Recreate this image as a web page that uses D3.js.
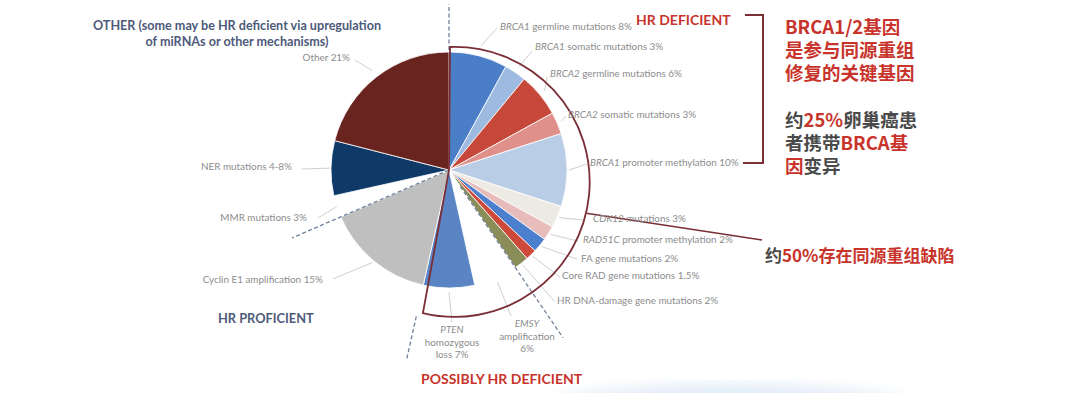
<!DOCTYPE html>
<html><head><meta charset="utf-8">
<script src="https://cdn.jsdelivr.net/npm/d3@7"></script>
<style>
html,body{margin:0;padding:0;background:#fff;}
svg{display:block;}
</style></head>
<body>
<svg id="chart" width="1080" height="393"></svg>
<script>
// ---------------- DATA ----------------
const categories = [
  "BRCA1 germline mutations", "BRCA1 somatic mutations", "BRCA2 germline mutations",
  "BRCA2 somatic mutations", "BRCA1 promoter methylation", "CDK12 mutations",
  "RAD51C promoter methylation", "FA gene mutations", "Core RAD gene mutations",
  "HR DNA-damage gene mutations", "EMSY amplification", "PTEN homozygous loss",
  "Cyclin E1 amplification", "MMR mutations", "NER mutations", "Other"
];
const values = [8, 3, 6, 3, 10, 3, 2, 2, 1.5, 2, 6, 7, 15, 3, 7.5, 21];
const valueLabels = ["8%","3%","6%","3%","10%","3%","2%","2%","1.5%","2%","6%","7%","15%","3%","4-8%","21%"];
const groups = ["HR DEFICIENT","POSSIBLY HR DEFICIENT","HR PROFICIENT","OTHER"];
const italicGenes = ["BRCA1","BRCA2","CDK12","RAD51C","EMSY","PTEN"];

// ---------------- STYLE / LAYOUT ----------------
const sliceColors = ["#4a7ec6","#9dbbe1","#c6483b","#e0908a","#b9cde7","#eceae2",
  "#e8bcba","#4c80cf","#cd4a3a","#8a8d57","#ffffff","#5b84c4","#bfbfbf","#ffffff","#0f3a68","#6a2420"];
const cx = 449, cy = 170, R = 118;
const oc = {x:455, y:182, r:135};          // outline arc centre/radius
const dark = "#7a2e35", red = "#c8342b", slate = "#4d5a7a", grayTxt = "#8c8c8c";
const labelFont = "Lato, 'Open Sans', sans-serif";
// label layout: [x, y, anchor, leaderEndX, leaderEndY, leaderStartR]
const labelLayout = [
  [500, 30, "start", 497, 28, 128],
  [535, 50, "start", 532, 51, 125],
  [550, 77, "start", 547, 77, 124],
  [568, 118,"start", 566, 116, 122],
  [590, 166,"start", 587, 164, 120],
  [593, 222,"start", 583, 220, 120],
  [583, 243,"start", 578, 241, 120],
  [581, 262,"start", 577, 259, 120],
  [562, 279,"start", 560, 277, 120],
  [557, 304,"start", 555, 302, 120],
  [527, 327,"middle",511, 316, 122],
  [452, 333,"middle",452, 322, 122],
  [323, 283,"end",   333, 279, 120],
  [307, 221,"end",   318, 218, 118],
  [292, 170,"end",   302, 169, 119],
  [350, 61, "end",   355, 60, 126]
];

const svg = d3.select("#chart");

// soft background blob at bottom
const defs = svg.append("defs");
defs.append("filter").attr("id","blur").append("feGaussianBlur").attr("stdDeviation",8);
svg.append("ellipse").attr("cx",730).attr("cy",412).attr("rx",190).attr("ry",26)
  .attr("fill","#dbe8f6").attr("filter","url(#blur)");

const g = svg.append("g").attr("transform",`translate(${cx},${cy})`);
const pie = d3.pie().sort(null).value(d=>d).startAngle(0).endAngle(2*Math.PI);
const arcs = pie(values);
const arc = d3.arc().innerRadius(0).outerRadius(R);

g.selectAll("path.slice").data(arcs).join("path")
  .attr("class","slice")
  .attr("d",arc)
  .attr("fill",(d,i)=>sliceColors[i])
  .attr("stroke","#fff").attr("stroke-width",0.8);

const polar = (a,r)=>[r*Math.sin(a), -r*Math.cos(a)];

// dashed boundary lines
const dashCol = "#6f819b";
const dashed = [
  [arcs[0].startAngle, R+2, 166],
  [arcs[12].endAngle, 0, 171],
  [arcs[9].endAngle, 20, 203],
  [arcs[11].endAngle, 150, 193]
];
dashed.forEach(([a,r0,r1])=>{
  const p0=polar(a,r0), p1=polar(a,r1);
  g.append("line").attr("x1",p0[0]).attr("y1",p0[1]).attr("x2",p1[0]).attr("y2",p1[1])
    .attr("stroke",dashCol).attr("stroke-width",1.3).attr("stroke-dasharray","4,2.5");
});

// leader lines
arcs.forEach((d,i)=>{
  const L = labelLayout[i];
  const mid = (d.startAngle+d.endAngle)/2;
  const p0 = polar(mid, L[5]);
  svg.append("line")
    .attr("x1",cx+p0[0]).attr("y1",cy+p0[1]).attr("x2",L[3]).attr("y2",L[4])
    .attr("stroke","#cfcfcf").attr("stroke-width",1);
});

// outline sector (HR deficient + possibly HR deficient)
const a0 = arcs[0].startAngle, a1 = arcs[11].endAngle + 0.02;
const ptO = a=>[oc.x + oc.r*Math.sin(a), oc.y - oc.r*Math.cos(a)];
const oTop = ptO(a0), oEnd = ptO(a1);
svg.append("path")
  .attr("d",`M${cx},${cy} L${cx+1},${oTop[1]} A${oc.r},${oc.r} 0 1 1 ${oEnd[0]},${oEnd[1]} Z`)
  .attr("fill","none").attr("stroke",dark).attr("stroke-width",1.8);

// connector to "约50%"
const cp = ptO(arcs[4].endAngle - 0.08);
svg.append("line").attr("x1",cp[0]).attr("y1",cp[1]).attr("x2",762).attr("y2",240)
  .attr("stroke",dark).attr("stroke-width",1.6);

// bracket
svg.append("path").attr("d","M745,15 H763 V163 H743")
  .attr("fill","none").attr("stroke",dark).attr("stroke-width",2);

// labels
function addLabel(sel, text){
  const words = text.split(" ");
  if (italicGenes.includes(words[0])) {
    sel.append("tspan").attr("font-style","italic").text(words[0]);
    sel.append("tspan").text(" "+words.slice(1).join(" "));
  } else sel.append("tspan").text(text);
}
arcs.forEach((d,i)=>{
  const L = labelLayout[i];
  const t = svg.append("text").attr("x",L[0]).attr("y",L[1]).attr("text-anchor",L[2])
    .attr("font-family",labelFont).attr("font-size",9.9).attr("fill",grayTxt);
  const full = categories[i]+" "+valueLabels[i];
  if (i===10 || i===11) {
    const w = categories[i].split(" ");
    const parts = i===10 ? [w[0], w[1], valueLabels[i]] : [w[0], w[1], w[2]+" "+valueLabels[i]];
    parts.forEach((p,k)=>{
      t.append("tspan").attr("x",L[0]).attr("dy",k===0?0:12.5)
        .attr("font-style",k===0?"italic":"normal").text(p);
    });
  } else addLabel(t, full);
});

// group headers
const hdr = (x,y,txt,col,size,anchor)=>svg.append("text").attr("x",x).attr("y",y)
  .attr("text-anchor",anchor||"start").attr("font-family",labelFont).attr("font-weight",700)
  .attr("font-size",size).attr("fill",col).text(txt);
hdr(237,30,groups[3]+" (some may be HR deficient via upregulation",slate,12.6,"middle");
hdr(237,46,"of miRNAs or other mechanisms)",slate,12.6,"middle");
hdr(218,323,groups[2],slate,12.8);
hdr(636,25,groups[0],red,14);
hdr(421,384,groups[1],red,14);

// Chinese annotations (each coloured run is its own text, placed after the previous one)
const cjk = "'Noto Sans CJK SC', sans-serif";
const cjkGray = "#4a4a4a";
function rich(x,y,parts,size){
  let xx = x;
  parts.forEach(([s,c])=>{
    const t = svg.append("text").attr("x",xx).attr("y",y).attr("font-family",cjk)
      .attr("font-size",size).attr("font-weight",700)
      .attr("fill",c==="r"?red:cjkGray).text(s);
    xx += t.node().getComputedTextLength();
  });
}
rich(785,34,[["BRCA1/2基因","r"]],18.5);
rich(785,57,[["是参与同源重组","r"]],18.5);
rich(785,80,[["修复的关键基因","r"]],18.5);
rich(785,127,[["约","g"],["25%","r"],["卵巢癌患","g"]],18.5);
rich(785,150,[["者携带","g"],["BRCA基","r"]],18.5);
rich(785,173,[["因","r"],["变异","g"]],18.5);
rich(765,262,[["约","g"],["50%存在同源重组缺陷","r"]],17);
</script>
</body></html>
